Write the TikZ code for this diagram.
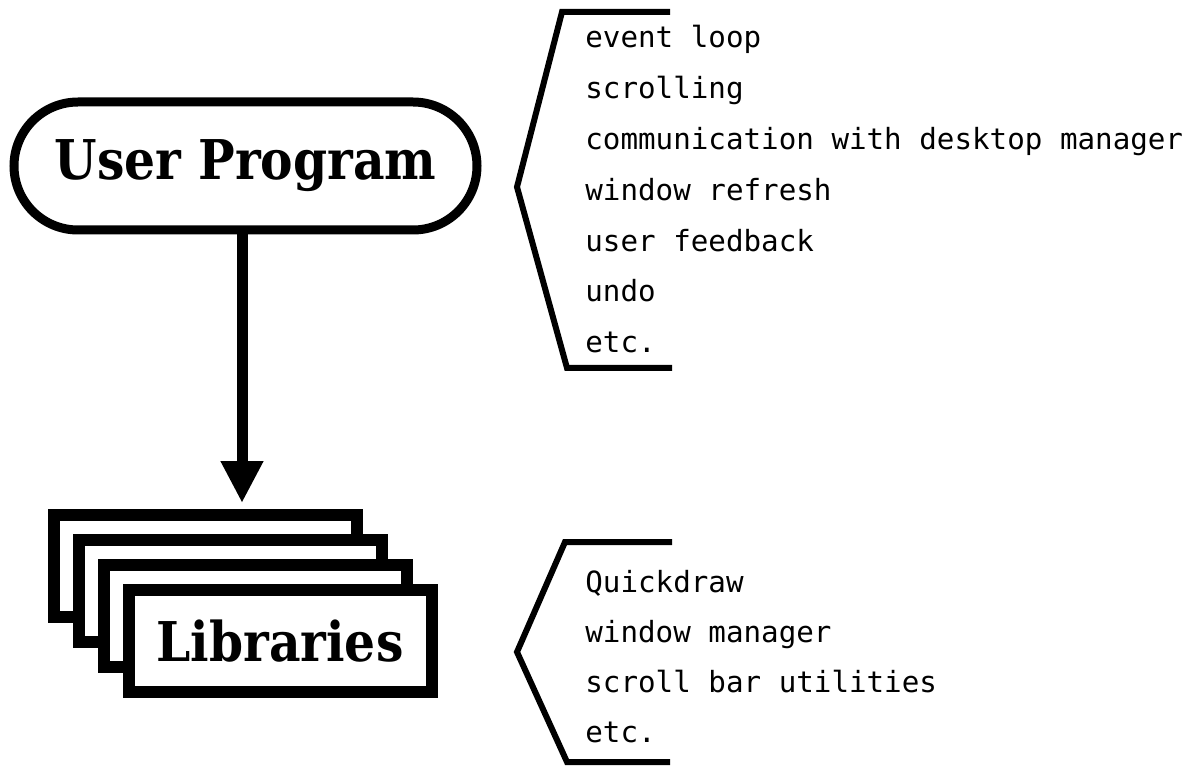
\documentclass[tikz,border=0pt]{standalone}
\usepackage{fontspec}
\newfontfamily\listfont{DejaVu Sans Mono}
\newfontfamily\bigfont[FakeStretch=0.89]{DejaVu Serif}
\usetikzlibrary{arrows.meta}
\begin{document}
\begin{tikzpicture}[x=0.5pt,y=-0.5pt,
  pill/.style={draw=black,line width=4.5pt,rounded corners=32pt,minimum width=231.5pt,minimum height=64pt,inner sep=0pt,fill=white},
  libbox/.style={draw=black,line width=6pt,fill=white,minimum width=151.5pt,minimum height=51pt,inner sep=0pt},
  bigtext/.style={font=\bigfont\bfseries\fontsize{27.4pt}{30pt}\selectfont},
  item/.style={anchor=base west,inner sep=0pt,font=\listfont\fontsize{14.6pt}{16pt}\selectfont},
  brace/.style={draw=black,line width=3pt,line join=miter}
]
\useasboundingbox (0,0) rectangle (1200,770);
% user program
\node[pill,bigtext] (user) at (245.5,166) {User Program};
% library stack
\node[libbox] (lib1) at (205,566) {};
\node[libbox] (lib2) at (230,591) {};
\node[libbox] (lib3) at (255,616) {};
\node[libbox,bigtext] (lib4) at (280,641) {Libraries};
% arrow
\coordinate (ax) at (242,0);
\draw[line width=5.5pt,-{Triangle[width=20pt,length=21pt]},shorten >=3pt] (user.south -| ax) -- (lib1.north -| ax);
% top list
\node[item] (t1) at (585,48) {event loop};
\node[item] (t2) at (585,98.8) {scrolling};
\node[item] (t3) at (585,149.6) {communication with desktop manager};
\node[item] (t4) at (585,200.4) {window refresh};
\node[item] (t5) at (585,251.2) {user feedback};
\node[item] (t6) at (585,302) {undo};
\node[item] (t7) at (585,352.8) {etc.};
\draw[brace] (670,12) -- (562,12) -- (517,187) -- (567,368) -- (672,368);
% bottom list
\node[item] (b1) at (585,592) {Quickdraw};
\node[item] (b2) at (585,642.3) {window manager};
\node[item] (b3) at (585,692.6) {scroll bar utilities};
\node[item] (b4) at (585,742.9) {etc.};
\draw[brace] (672,542) -- (565,542) -- (517,652) -- (567,762) -- (670,762);
\end{tikzpicture}
\end{document}
